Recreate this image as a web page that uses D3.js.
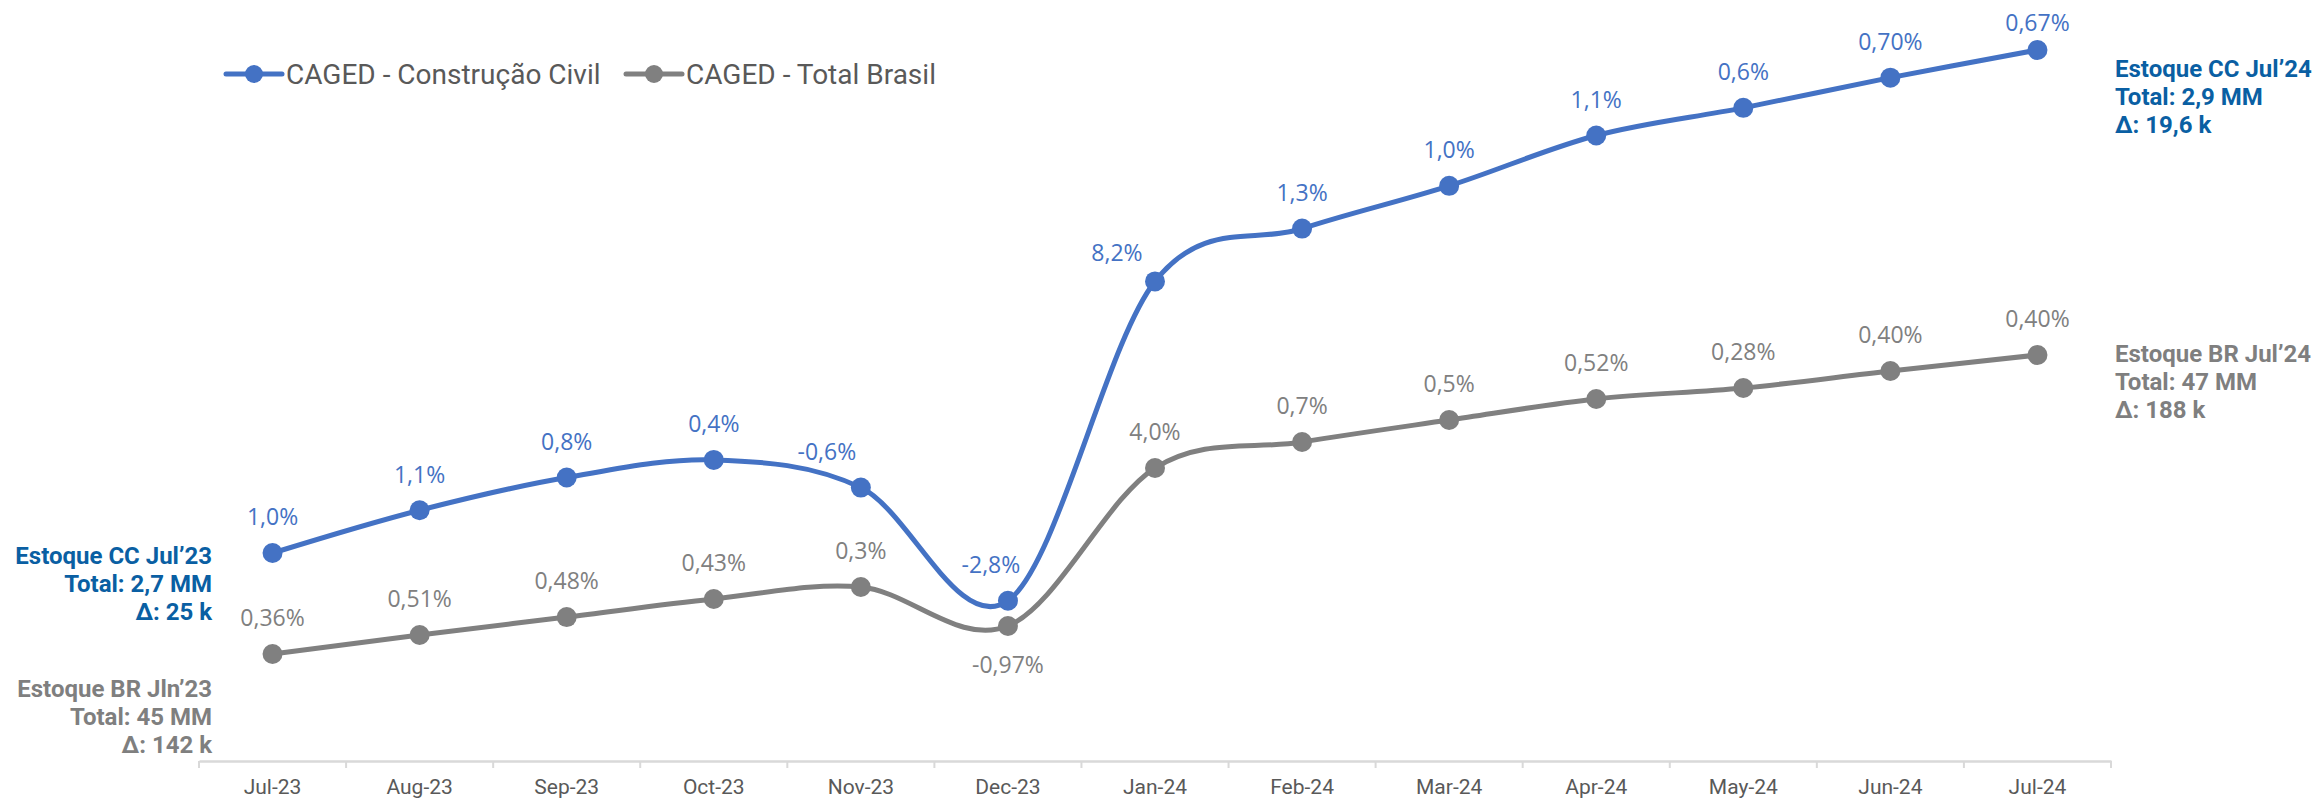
<!DOCTYPE html>
<html>
<head>
<meta charset="utf-8">
<script src="https://cdn.jsdelivr.net/npm/d3@7"></script>
<style>
  body { margin: 0; background: #fff; }
  svg { display: block; }
</style>
</head>
<body>
<svg id="chart" width="2315" height="798"></svg>
<script>
// months on the x axis
const months = ["Jul-23", "Aug-23", "Sep-23", "Oct-23", "Nov-23", "Dec-23", "Jan-24",
  "Feb-24", "Mar-24", "Apr-24", "May-24", "Jun-24", "Jul-24"];

// stock levels (thousands of jobs)
const ccStock = [2700, 2717, 2730, 2737, 2726, 2681, 2808, 2829, 2846, 2866, 2877, 2889, 2900];
const brStock = [45000, 45127, 45247, 45368, 45448, 45187, 46244, 46418, 46565, 46706, 46779, 46893, 47000];

// data labels shown on the points
const ccLabels = ["1,0%", "1,1%", "0,8%", "0,4%", "-0,6%", "-2,8%", "8,2%", "1,3%", "1,0%", "1,1%", "0,6%", "0,70%", "0,67%"];
const brLabels = ["0,36%", "0,51%", "0,48%", "0,43%", "0,3%", "-0,97%", "4,0%", "0,7%", "0,5%", "0,52%", "0,28%", "0,40%", "0,40%"];

const seriesNames = ["CAGED - Construção Civil", "CAGED - Total Brasil"];

const ccNotesStart = ["Estoque CC Jul’23", "Total: 2,7 MM", "Δ: 25 k"];
const brNotesStart = ["Estoque BR Jln’23", "Total: 45 MM", "Δ: 142 k"];
const ccNotesEnd = ["Estoque CC Jul’24", "Total: 2,9 MM", "Δ: 19,6 k"];
const brNotesEnd = ["Estoque BR Jul’24", "Total: 47 MM", "Δ: 188 k"];

const blue = '#4472C4';
const gray = '#808080';
const noteBlue = '#0A5FA3';
const noteGray = '#7F7F7F';

const svg = d3.select('#chart');

const x = d3.scaleBand()
  .domain(months)
  .range([199, 2111]);
const cx = (m) => x(m) + x.bandwidth() / 2;

// primary axis (construction) and secondary axis (Brazil), both hidden
const yCC = d3.scaleLinear().domain([2700, 2900]).range([553, 50]);
const yBR = d3.scaleLinear().domain([45000, 47000]).range([654, 355]);

// x axis
const xAxis = d3.axisBottom(x).tickSize(0).tickPadding(18);
const gx = svg.append('g')
  .attr('transform', 'translate(0, 761)')
  .call(xAxis);
gx.select('.domain').attr('stroke', '#D9D9D9').attr('stroke-width', 2.5);
gx.selectAll('text')
  .attr('font-family', 'Roboto')
  .attr('font-size', 21)
  .attr('fill', '#595959');

// tick marks between categories
gx.selectAll('.sep')
  .data(months.map(m => x(m)).concat([x.range()[1]]))
  .enter()
  .append('line')
  .attr('class', 'sep')
  .attr('x1', d => d)
  .attr('x2', d => d)
  .attr('y1', 0)
  .attr('y2', 7)
  .attr('stroke', '#D9D9D9')
  .attr('stroke-width', 2);

const curve = d3.curveCardinal.tension(0);

function drawSeries(values, yScale, color, labels, nudges) {
  const pts = months.map((m, i) => ({ m, v: values[i], label: labels[i] }));

  svg.append('path')
    .datum(pts)
    .attr('fill', 'none')
    .attr('stroke', color)
    .attr('stroke-width', 5)
    .attr('stroke-linecap', 'round')
    .attr('d', d3.line().x(d => cx(d.m)).y(d => yScale(d.v)).curve(curve));

  svg.append('g')
    .selectAll('circle')
    .data(pts)
    .enter()
    .append('circle')
    .attr('cx', d => cx(d.m))
    .attr('cy', d => yScale(d.v))
    .attr('r', 10)
    .attr('fill', color);

  svg.append('g')
    .selectAll('text')
    .data(pts)
    .enter()
    .append('text')
    .attr('x', d => cx(d.m) + ((nudges[d.m] || {}).dx || 0))
    .attr('y', d => yScale(d.v) + ((nudges[d.m] || {}).dy || -36))
    .attr('dy', '0.36em')
    .attr('text-anchor', 'middle')
    .attr('font-family', 'Open Sans')
    .attr('font-size', 23)
    .attr('fill', color)
    .text(d => d.label);
}

drawSeries(brStock, yBR, gray, brLabels, {
  'Dec-23': { dy: 39 }
});
drawSeries(ccStock, yCC, blue, ccLabels, {
  'Nov-23': { dx: -34 },
  'Dec-23': { dx: -17 },
  'Jan-24': { dx: -38, dy: -29 },
  'Jul-24': { dy: -27 }
});

// legend
const legend = svg.append('g').attr('transform', 'translate(0, 74)');
[[226, blue, seriesNames[0]], [626, gray, seriesNames[1]]].forEach(([lx, color, name]) => {
  legend.append('line')
    .attr('x1', lx).attr('x2', lx + 56)
    .attr('y1', 0).attr('y2', 0)
    .attr('stroke', color)
    .attr('stroke-width', 5)
    .attr('stroke-linecap', 'round');
  legend.append('circle')
    .attr('cx', lx + 28)
    .attr('cy', 0)
    .attr('r', 9)
    .attr('fill', color);
  legend.append('text')
    .attr('x', lx + 60)
    .attr('y', 0)
    .attr('dy', '0.36em')
    .attr('font-family', 'Roboto')
    .attr('font-size', 28)
    .attr('fill', '#595959')
    .text(name);
});

// stock annotations
function notes(lines, nx, ny, anchor, color) {
  svg.append('g')
    .selectAll('text')
    .data(lines)
    .enter()
    .append('text')
    .attr('x', nx)
    .attr('y', (d, i) => ny + i * 28)
    .attr('dy', '0.36em')
    .attr('text-anchor', anchor)
    .attr('font-family', 'Roboto')
    .attr('font-weight', 'bold')
    .attr('font-size', 24)
    .attr('fill', color)
    .text(d => d);
}

notes(ccNotesStart, 212, 555, 'end', noteBlue);
notes(brNotesStart, 212, 688, 'end', noteGray);
notes(ccNotesEnd, 2115, 68, 'start', noteBlue);
notes(brNotesEnd, 2115, 353, 'start', noteGray);
</script>
</body>
</html>
